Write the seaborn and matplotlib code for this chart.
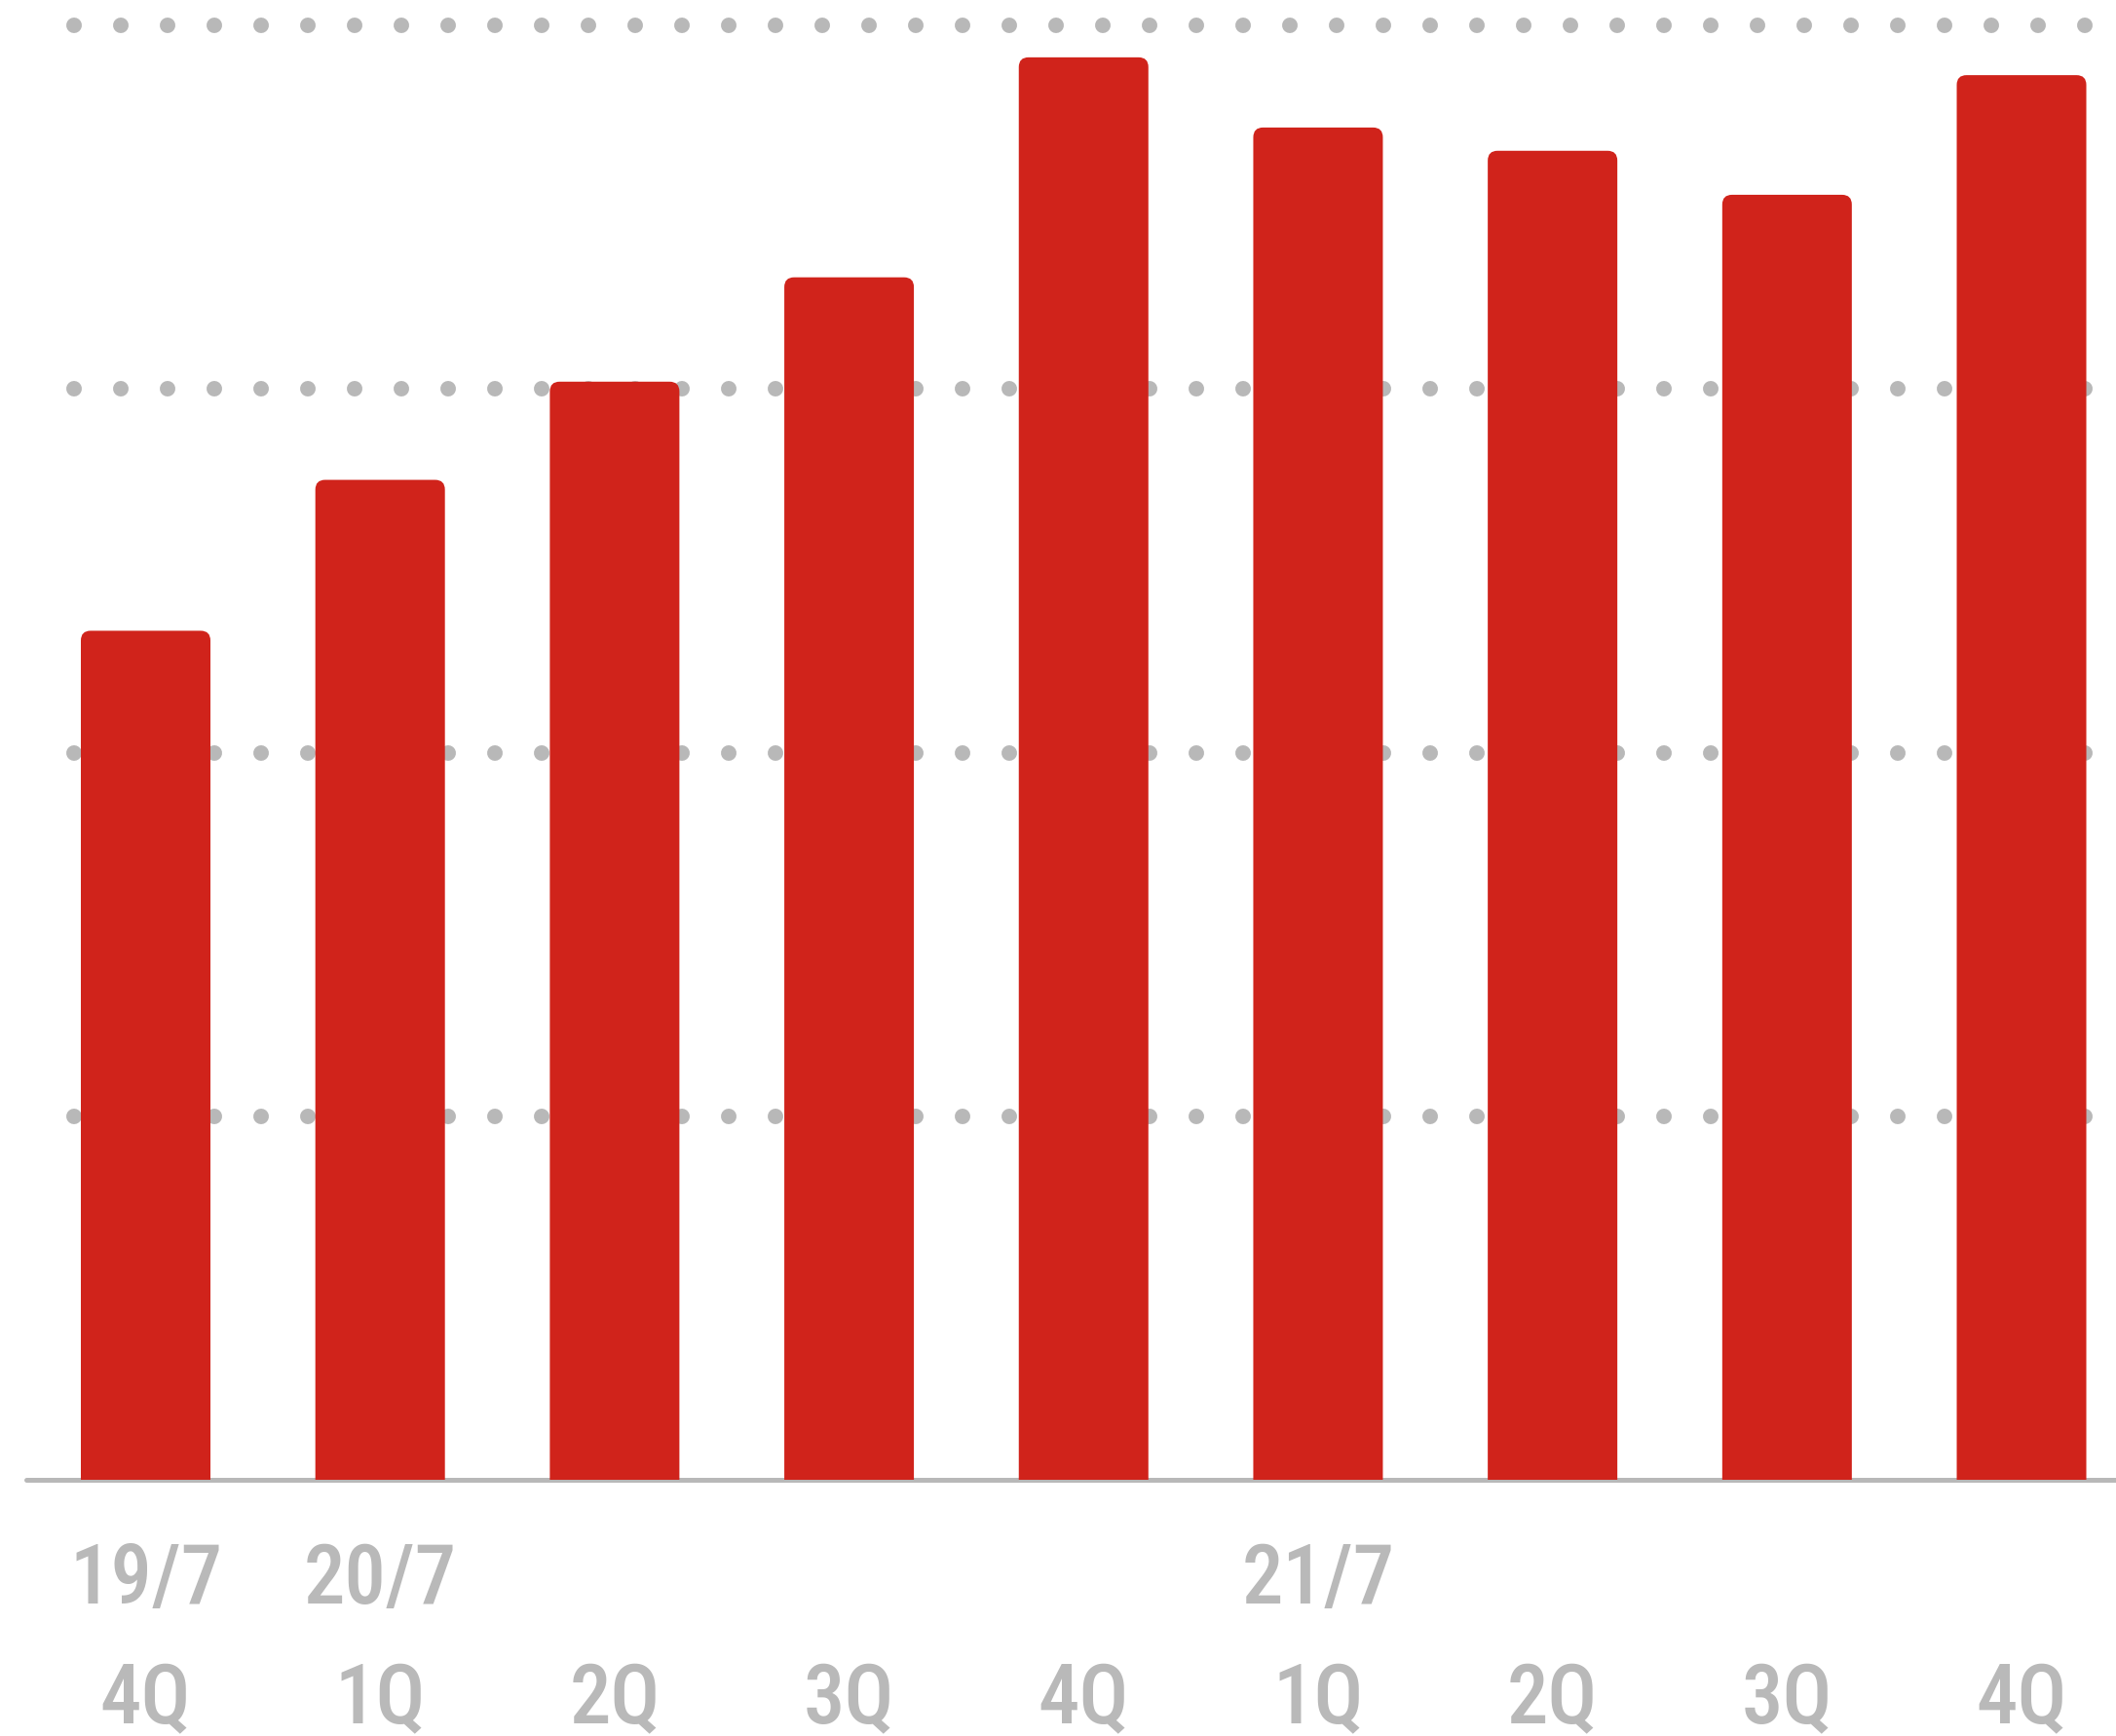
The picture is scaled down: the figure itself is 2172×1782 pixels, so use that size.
import matplotlib
matplotlib.use("Agg")
import matplotlib.pyplot as plt
from matplotlib.patches import FancyBboxPatch
from matplotlib import font_manager
import seaborn as sns
import pandas as pd

# ---- data ----
fiscal_years = ["19/7", "20/7", "", "", "", "21/7", "", "", ""]
quarters = ["4Q", "1Q", "2Q", "3Q", "4Q", "1Q", "2Q", "3Q", "4Q"]
values = [233.5, 275.0, 302.0, 330.7, 391.2, 371.9, 365.5, 353.4, 386.3]
grid_values = [100, 200, 300, 400]

periods = [f"P{i}" for i in range(len(values))]
df = pd.DataFrame({"period": periods, "value": values})

# ---- style ----
sns.set_style("white")
names = {f.name for f in font_manager.fontManager.ttflist}
label_family, label_stretch = "DejaVu Sans", "condensed"
for cand in ["Roboto Condensed", "Liberation Sans Narrow"]:
    if cand in names:
        label_family, label_stretch = cand, "normal"
        break
plt.rcParams["font.family"] = [label_family, "DejaVu Sans"]

BAR_COLOR = "#d0231b"
GRAY = "#b8b8b8"
TEXT_GRAY = "#b9b9b9"

W, H, DPI = 2172, 1782, 100
fig = plt.figure(figsize=(W / DPI, H / DPI), dpi=DPI)
fig.patch.set_facecolor("white")

ax_left, ax_bottom_px, ax_top_px = 27, 1519, 0
ax = fig.add_axes([ax_left / W, (H - ax_bottom_px) / H,
                   (W - ax_left) / W, (ax_bottom_px - ax_top_px) / H])

bar_width = 0.5526
sns.barplot(data=df, x="period", y="value", order=periods, color=BAR_COLOR,
            saturation=1, width=bar_width, ax=ax, errorbar=None)

px_per_x = 240.69
px_per_y = 3.7325
ax.set_xlim((ax_left - 149.5) / px_per_x, (W - 149.5) / px_per_x)
ax.set_ylim(0, (ax_bottom_px - ax_top_px) / px_per_y)

# replace plain bars with top-rounded bars (bottom corners hidden below the axis)
radius_x = 10 / px_per_x
aspect = px_per_x / px_per_y
below = 20
for p in list(ax.patches):
    x0, w, h = p.get_x(), p.get_width(), p.get_height()
    p.set_visible(False)
    fb = FancyBboxPatch((x0, -below), w, h + below,
                        boxstyle=f"round,pad=0,rounding_size={radius_x}",
                        mutation_aspect=aspect, facecolor=BAR_COLOR,
                        edgecolor="none", linewidth=0, zorder=1)
    ax.add_patch(fb)

# dotted gridlines
dot_lw = 16 * 72 / DPI
x_start = (76 - ax_left) / (W - ax_left)
x_end = (2143 - ax_left) / (W - ax_left)
for gv in grid_values:
    ax.axhline(gv, xmin=x_start, xmax=x_end, color=GRAY, lw=dot_lw,
               linestyle=(0, (0.001, 2.999)), dash_capstyle="round", zorder=0.5)

# baseline
ax.axhline(0, color=GRAY, lw=5 * 72 / DPI, clip_on=False, zorder=0.6)

for s in ax.spines.values():
    s.set_visible(False)
ax.set_xticks([])
ax.set_yticks([])
ax.set_xlabel("")
ax.set_ylabel("")

# labels
axis_h = ax_bottom_px - ax_top_px
y_fy = -(1646 - ax_bottom_px) / axis_h
y_q = -(1769 - ax_bottom_px) / axis_h
fs = 61
for i, (fy, q) in enumerate(zip(fiscal_years, quarters)):
    if fy:
        ax.text(i, y_fy, fy, transform=ax.get_xaxis_transform(), ha="center",
                va="baseline", fontsize=fs, color=TEXT_GRAY, weight="medium",
                family=[label_family, "DejaVu Sans"], stretch=label_stretch,
                clip_on=False)
    ax.text(i, y_q, q, transform=ax.get_xaxis_transform(), ha="center",
            va="baseline", fontsize=fs, color=TEXT_GRAY, weight="medium",
            family=[label_family, "DejaVu Sans"], stretch=label_stretch,
            clip_on=False)

fig.savefig("out.png", dpi=DPI, facecolor="white")
